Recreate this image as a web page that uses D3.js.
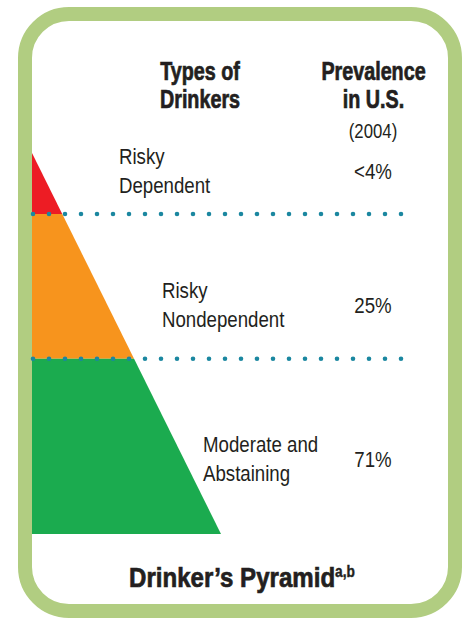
<!DOCTYPE html>
<html>
<head>
<meta charset="utf-8">
<script src="https://cdn.jsdelivr.net/npm/d3@7"></script>
<style>
  html, body { margin: 0; padding: 0; background: #fff; }
  svg { display: block; }
  .bold { font-family: "Liberation Sans", Arial, sans-serif; font-weight: bold; fill: #231f20; stroke: #231f20; stroke-width: 0.7px; }
  .reg { font-family: "Liberation Sans", Arial, sans-serif; fill: #231f20; }
</style>
</head>
<body>
<svg id="canvas" width="462" height="620"></svg>
<script>
// data
var tiers = [["Risky", "Dependent"], ["Risky", "Nondependent"], ["Moderate and", "Abstaining"]];
var prevalence = ["<4%", "25%", "71%"];
var tierTop = [0, 16, 54];       // pyramid depth (0 = apex, 100 = base)
var tierBottom = [16, 54, 100];
var tierColors = ["#ed1c24", "#f7941d", "#1bab4f"];
var colHeaders = [["Types of", "Drinkers"], ["Prevalence", "in U.S."]];
var yearNote = "(2004)";

var svg = d3.select('#canvas');

// condensed look: squeeze text horizontally around its anchor
function squeezed(cls, x, y, size, sx, anchor){
  return svg.append('text').attr('class', cls)
    .attr('transform', 'translate(' + x + ',' + y + ') scale(' + sx + ',1)')
    .attr('font-size', size)
    .attr('text-anchor', anchor || 'start');
}

// ************************************************************************ //
// Frame

svg.append('rect')
  .attr('x', 25).attr('y', 14).attr('width', 430).attr('height', 597)
  .attr('rx', 44).attr('ry', 44)
  .attr('fill', '#fff').attr('stroke', '#b1cd81').attr('stroke-width', 14);

// ************************************************************************ //
// Scales

var yScale = d3.scaleLinear().domain([0, 100]).range([153, 534]);
var xScale = d3.scaleLinear().domain([0, 100]).range([32, 221]);   // right edge of pyramid at given depth
var leftX = 32;

// pyramid bands
var bands = svg.append('g');
tierTop.forEach(function(t, i){
  var b = tierBottom[i];
  var pts = [[leftX, yScale(t)], [xScale(t), yScale(t)], [xScale(b), yScale(b)], [leftX, yScale(b)]];
  bands.append('path')
    .attr('d', d3.line()(pts) + 'Z')
    .attr('fill', tierColors[i]);
});

// dotted separators
var dots = svg.append('g');
tierBottom.slice(0, -1).forEach(function(b){
  dots.append('line')
    .attr('x1', 33).attr('x2', 406)
    .attr('y1', yScale(b)).attr('y2', yScale(b))
    .attr('stroke', '#1b87a0').attr('stroke-width', 4.6)
    .attr('stroke-linecap', 'round').attr('stroke-dasharray', '0,16');
});

// ************************************************************************ //
// Headers

var headX = [200, 373.5];
colHeaders.forEach(function(h, i){
  h.forEach(function(line, j){
    squeezed('bold', headX[i], 80 + j * 28, 25, 0.79, 'middle').text(line);
  });
});
squeezed('reg', 373, 138, 19.5, 0.86, 'middle').text(yearNote);

// ************************************************************************ //
// Tier labels

var labelX = [119, 162, 203];
var labelY = [164, 298, 452];
var pctY = [179, 313, 467];
tiers.forEach(function(t, i){
  t.forEach(function(line, j){
    squeezed('reg', labelX[i], labelY[i] + j * 29, 22.5, 0.83).text(line);
  });
  squeezed('reg', 373, pctY[i], 22.5, 0.83, 'middle').text(prevalence[i]);
});

// ************************************************************************ //
// Title

var title = squeezed('bold', 242, 587, 28, 0.86, 'middle');
title.append('tspan').text('Drinker\u2019s Pyramid');
title.append('tspan').attr('font-size', 16).attr('dy', -10).attr('stroke-width', 0.4).text('a,b');
</script>
</body>
</html>
